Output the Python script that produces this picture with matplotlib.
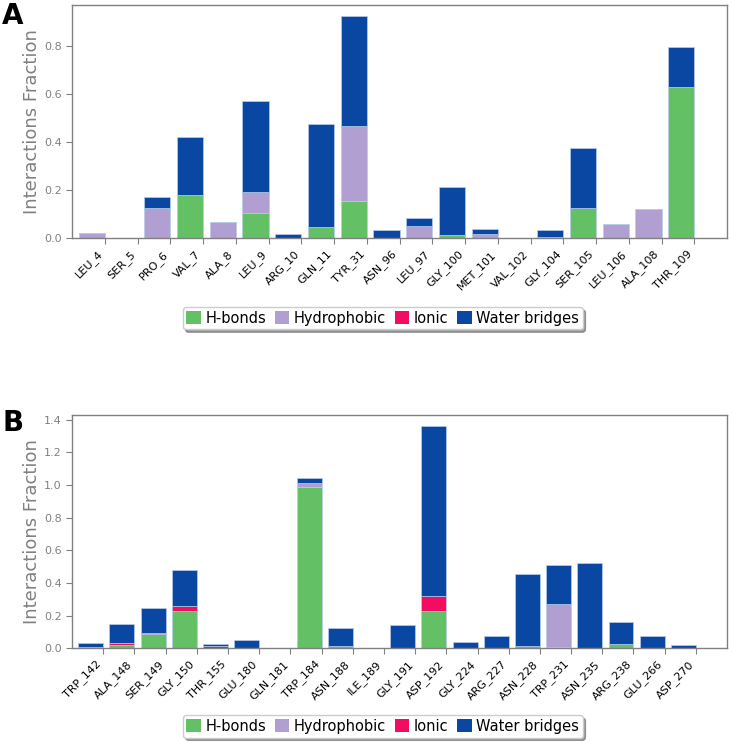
import numpy as np
import matplotlib
matplotlib.use('Agg')
from matplotlib import pyplot as plt
from matplotlib.patches import Patch

# Panel A residues and interaction fractions
res_a = ['LEU_4', 'SER_5', 'PRO_6', 'VAL_7', 'ALA_8', 'LEU_9', 'ARG_10', 'GLN_11',
         'TYR_31', 'ASN_96', 'LEU_97', 'GLY_100', 'MET_101', 'VAL_102', 'GLY_104',
         'SER_105', 'LEU_106', 'ALA_108', 'THR_109']
hb_a = [0.0, 0.0, 0.0, 0.18, 0.0, 0.104, 0.0, 0.047, 0.154, 0.0, 0.0, 0.012, 0.0,
        0.0, 0.006, 0.126, 0.0, 0.0, 0.629]
hp_a = [0.022, 0.0, 0.125, 0.0, 0.066, 0.089, 0.0, 0.0, 0.314, 0.0, 0.051, 0.0, 0.018,
        0.002, 0.0, 0.0, 0.057, 0.119, 0.0]
io_a = [0.0] * 19
wb_a = [0.0, 0.0, 0.047, 0.242, 0.0, 0.378, 0.015, 0.427, 0.456, 0.032, 0.033, 0.2,
        0.019, 0.0, 0.029, 0.248, 0.0, 0.0, 0.167]

# Panel B residues and interaction fractions
res_b = ['TRP_142', 'ALA_148', 'SER_149', 'GLY_150', 'THR_155', 'GLU_180', 'GLN_181',
         'TRP_184', 'ASN_188', 'ILE_189', 'GLY_191', 'ASP_192', 'GLY_224', 'ARG_227',
         'ASN_228', 'TRP_231', 'ASN_235', 'ARG_238', 'GLU_266', 'ASP_270']
hb_b = [0.0, 0.018, 0.088, 0.229, 0.002, 0.0, 0.0, 0.989, 0.014, 0.0, 0.0, 0.231, 0.0,
        0.0, 0.012, 0.01, 0.0, 0.027, 0.0, 0.0]
hp_b = [0.005, 0.0, 0.0, 0.0, 0.0, 0.0, 0.0, 0.02, 0.0, 0.0, 0.0, 0.0, 0.0, 0.0, 0.0,
        0.262, 0.0, 0.0, 0.0, 0.0]
io_b = [0.0, 0.013, 0.008, 0.028, 0.014, 0.0, 0.0, 0.0, 0.0, 0.0, 0.0, 0.09, 0.0, 0.0,
        0.0, 0.0, 0.0, 0.0, 0.0, 0.0]
wb_b = [0.03, 0.118, 0.149, 0.223, 0.013, 0.049, 0.002, 0.035, 0.109, 0.0, 0.143, 1.039,
        0.037, 0.076, 0.444, 0.237, 0.521, 0.134, 0.076, 0.022]

labels = ['H-bonds', 'Hydrophobic', 'Ionic', 'Water bridges']
colors = ['#63c064', '#b09fd0', '#f20d62', '#0a47a3']
GREY = '#808080'

fig = plt.figure(figsize=(7.29, 7.42), dpi=100)
ax_a = fig.add_axes([0.0988, 0.6792, 0.8985, 0.3141])
ax_b = fig.add_axes([0.0988, 0.1263, 0.8985, 0.3144])


def draw(ax, res, series):
    x = np.arange(len(res))
    bottom = np.zeros(len(res))
    for vals, c in zip(series, colors):
        vals = np.array(vals)
        ax.bar(x, vals, width=0.8, bottom=bottom, color=c,
               edgecolor='#b8cde9', linewidth=0.5)
        bottom = bottom + vals
    ax.set_xlim(-0.6, len(res) + 0.4)
    ax.set_ylim(0, bottom.max() * 1.05)
    ax.set_xticks(x + 0.4)
    ax.set_xticklabels(res, rotation=45, ha='right', fontsize=8)
    ax.tick_params(axis='y', labelsize=8, labelcolor=GREY, color=GREY,
                   direction='out', length=4)
    ax.tick_params(axis='x', color=GREY, direction='out', length=4)
    for s in ax.spines.values():
        s.set_color(GREY)
        s.set_linewidth(1.0)
    ax.set_ylabel('Interactions Fraction', fontsize=13, color=GREY, labelpad=2)


draw(ax_a, res_a, [hb_a, hp_a, io_a, wb_a])
draw(ax_b, res_b, [hb_b, hp_b, io_b, wb_b])
ax_a.set_yticks(np.arange(0, 0.81, 0.2))
ax_b.set_yticks(np.arange(0, 1.41, 0.2))

handles = [Patch(facecolor=c, edgecolor='none') for c in colors]
for yc in (0.571, 0.021):
    fig.legend(handles, labels, loc='center', bbox_to_anchor=(0.525, yc), ncol=4,
               fontsize=10.5, handlelength=1.0, handleheight=1.0,
               handletextpad=0.3, columnspacing=0.6, borderpad=0.25,
               shadow=True, fancybox=True, edgecolor='#cccccc')

fig.text(0.003, 0.997, 'A', fontsize=20, fontweight='heavy', va='top', ha='left')
fig.text(0.003, 0.449, 'B', fontsize=20, fontweight='heavy', va='top', ha='left')

fig.savefig('out.png', dpi=100)
